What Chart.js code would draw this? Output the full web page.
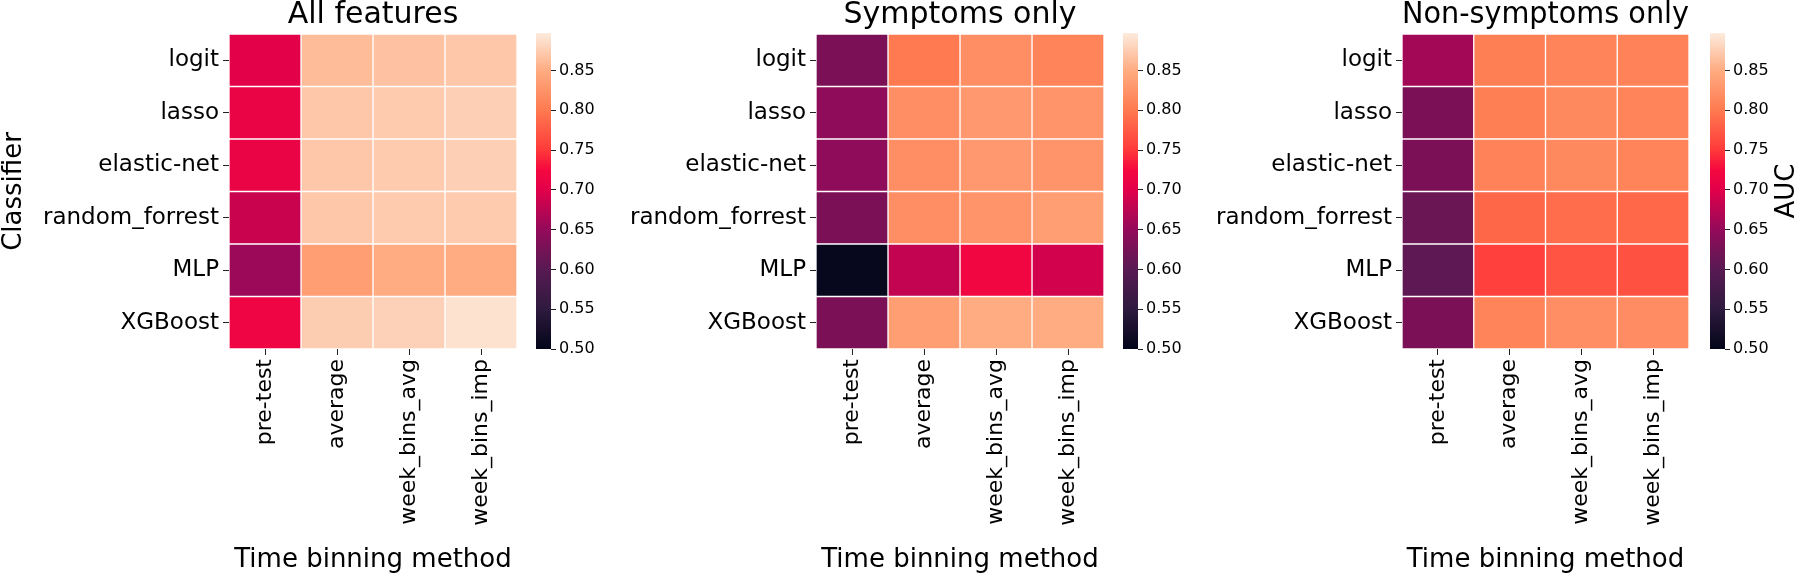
<!DOCTYPE html>
<html>
<head>
<meta charset="utf-8">
<script src="https://cdn.jsdelivr.net/npm/chart.js@4.4.1/dist/chart.umd.min.js"></script>
<style>
  body { margin: 0; background: #fff; width: 1800px; height: 577px; overflow: hidden; position: relative; }
  canvas { position: absolute; top: 0; }
</style>
</head>
<body>
<canvas id="hm-all" width="521" height="577" style="left:0px"></canvas>
<canvas id="cb-all" width="80" height="577" style="left:536px"></canvas>
<canvas id="hm-sym" width="508" height="577" style="left:600px"></canvas>
<canvas id="cb-sym" width="80" height="577" style="left:1123px"></canvas>
<canvas id="hm-non" width="493" height="577" style="left:1200px"></canvas>
<canvas id="cb-non" width="90" height="577" style="left:1710px"></canvas>
<script>
const FONT = 'DejaVu Sans';

const classifiers = ['logit', 'lasso', 'elastic-net', 'random_forrest', 'MLP', 'XGBoost'];
const methods = ['pre-test', 'average', 'week_bins_avg', 'week_bins_imp'];

// AUC per classifier row, columns follow `methods`
const aucAllFeatures = [
  [0.702, 0.862, 0.866, 0.870],
  [0.712, 0.870, 0.873, 0.877],
  [0.712, 0.870, 0.873, 0.877],
  [0.685, 0.870, 0.873, 0.873],
  [0.655, 0.835, 0.850, 0.850],
  [0.717, 0.875, 0.878, 0.890]
];
const aucSymptomsOnly = [
  [0.630, 0.800, 0.820, 0.810],
  [0.645, 0.820, 0.830, 0.825],
  [0.645, 0.820, 0.830, 0.825],
  [0.630, 0.820, 0.825, 0.835],
  [0.505, 0.680, 0.720, 0.690],
  [0.630, 0.835, 0.850, 0.850]
];
const aucNonSymptoms = [
  [0.660, 0.805, 0.810, 0.808],
  [0.630, 0.805, 0.815, 0.810],
  [0.630, 0.808, 0.815, 0.810],
  [0.615, 0.785, 0.790, 0.787],
  [0.605, 0.755, 0.770, 0.768],
  [0.630, 0.810, 0.820, 0.818]
];

const aucMin = 0.50;
const aucMax = 0.897;
const colorbarTicks = [0.50, 0.55, 0.60, 0.65, 0.70, 0.75, 0.80, 0.85];

// rocket-like colour ramp, position 0..1
const rocketStops = [
  [0.000, '#03051a'],
  [0.126, '#2e1a3e'],
  [0.252, '#581a52'],
  [0.378, '#940a5a'],
  [0.504, '#e2004a'],
  [0.567, '#f5083f'],
  [0.630, '#ff3a3a'],
  [0.756, '#ff7a50'],
  [0.882, '#ffac82'],
  [1.000, '#fcebdd']
];

function hexToRgb(h) {
  return [1, 3, 5].map((i) => parseInt(h.slice(i, i + 2), 16));
}

function colorFor(v) {
  const t = Math.min(1, Math.max(0, (v - aucMin) / (aucMax - aucMin)));
  for (let i = 1; i < rocketStops.length; i++) {
    const [t1, c1] = rocketStops[i];
    if (t <= t1) {
      const [t0, c0] = rocketStops[i - 1];
      const f = (t - t0) / (t1 - t0);
      const a = hexToRgb(c0);
      const b = hexToRgb(c1);
      const rgb = a.map((x, k) => Math.round(x + (b[k] - x) * f));
      return `rgb(${rgb.join(',')})`;
    }
  }
  return rocketStops[rocketStops.length - 1][1];
}

function makeHeatmap(id, title, values, yAxisWidth, showYTitle) {
  const datasets = methods.map((m, c) => ({
    label: m,
    data: classifiers.map(() => [c, c + 1]),
    backgroundColor: classifiers.map((_, r) => colorFor(values[r][c])),
    borderColor: '#ffffff',
    borderWidth: 1,
    borderSkipped: false,
    grouped: false,
    barPercentage: 1,
    categoryPercentage: 1
  }));

  return new Chart(document.getElementById(id), {
    type: 'bar',
    data: { labels: classifiers, datasets },
    options: {
      indexAxis: 'y',
      responsive: false,
      animation: false,
      layout: { padding: { left: 0, right: 4, top: 0, bottom: 0 } },
      plugins: {
        legend: { display: false },
        tooltip: { enabled: false },
        title: {
          display: true,
          text: title,
          fullSize: false,
          color: '#000',
          font: { family: FONT, size: 30, weight: 'normal', lineHeight: 0.85 },
          padding: { top: 2, bottom: 6.5 }
        }
      },
      scales: {
        y: {
          type: 'category',
          position: 'left',
          grid: { display: true, offset: false, drawOnChartArea: false, tickLength: 6, tickColor: '#222', tickWidth: 1 },
          border: { display: false },
          ticks: { color: '#000', padding: 4, font: { family: FONT, size: 23 } },
          title: {
            display: showYTitle,
            text: 'Classifier',
            color: '#000',
            padding: 0,
            font: { family: FONT, size: 26, lineHeight: 1.1 }
          },
          afterFit: (s) => { s.width = yAxisWidth; }
        },
        x: {
          type: 'linear',
          position: 'bottom',
          min: 0,
          max: methods.length,
          afterBuildTicks: (s) => { s.ticks = methods.map((_, i) => ({ value: i + 0.5 })); },
          grid: { display: true, drawOnChartArea: false, tickLength: 6, tickColor: '#222', tickWidth: 1 },
          border: { display: false },
          ticks: {
            autoSkip: false,
            minRotation: 90,
            maxRotation: 90,
            color: '#000',
            padding: 4,
            font: { family: FONT, size: 22 },
            callback: (v, i) => methods[i]
          },
          title: {
            display: true,
            text: 'Time binning method',
            color: '#000',
            padding: { top: 0, bottom: 1 },
            font: { family: FONT, size: 26 }
          },
          afterFit: (s) => { s.height = 228; }
        }
      }
    }
  });
}

// colorbar label reads bottom-to-top like matplotlib, so it is drawn here
const cbarLabel = {
  id: 'cbarLabel',
  afterDraw(chart, args, opts) {
    if (!opts.text) return;
    const s = chart.scales.y;
    const { ctx, chartArea } = chart;
    ctx.save();
    ctx.translate(s.right - 13, (chartArea.top + chartArea.bottom) / 2);
    ctx.rotate(-Math.PI / 2);
    ctx.font = `26px "${FONT}"`;
    ctx.fillStyle = '#000';
    ctx.textAlign = 'center';
    ctx.textBaseline = 'middle';
    ctx.fillText(opts.text, 0, 0);
    ctx.restore();
  }
};

function makeColorbar(id, label) {
  const canvas = document.getElementById(id);
  return new Chart(canvas, {
    type: 'bar',
    data: {
      labels: ['AUC'],
      datasets: [{
        data: [[aucMin, aucMax]],
        borderWidth: 0,
        barPercentage: 1,
        categoryPercentage: 1,
        backgroundColor: (ctx) => {
          const chart = ctx.chart;
          const y = chart.scales.y;
          if (!chart.chartArea || !y) return '#000';
          const g = chart.ctx.createLinearGradient(0, y.getPixelForValue(aucMin), 0, y.getPixelForValue(aucMax));
          rocketStops.forEach(([t, c]) => g.addColorStop(t, c));
          return g;
        }
      }]
    },
    plugins: [cbarLabel],
    options: {
      responsive: false,
      animation: false,
      layout: { padding: { left: 0, right: 0, top: 33, bottom: 228 } },
      plugins: { legend: { display: false }, tooltip: { enabled: false }, cbarLabel: { text: label } },
      scales: {
        x: { display: false },
        y: {
          type: 'linear',
          position: 'right',
          min: aucMin,
          max: aucMax,
          afterBuildTicks: (s) => { s.ticks = colorbarTicks.map((v) => ({ value: v })); },
          grid: { display: true, drawOnChartArea: false, tickLength: 5, tickColor: '#222', tickWidth: 1 },
          border: { display: false },
          ticks: {
            color: '#000',
            padding: 3,
            font: { family: FONT, size: 16 },
            callback: (v) => Number(v).toFixed(2)
          },
          afterFit: (s) => { s.width = canvas.width - 15; }
        }
      }
    }
  });
}

makeHeatmap('hm-all', 'All features', aucAllFeatures, 229, true);
makeHeatmap('hm-sym', 'Symptoms only', aucSymptomsOnly, 216, false);
makeHeatmap('hm-non', 'Non-symptoms only', aucNonSymptoms, 202, false);
makeColorbar('cb-all', '');
makeColorbar('cb-sym', '');
makeColorbar('cb-non', 'AUC');
</script>
</body>
</html>
